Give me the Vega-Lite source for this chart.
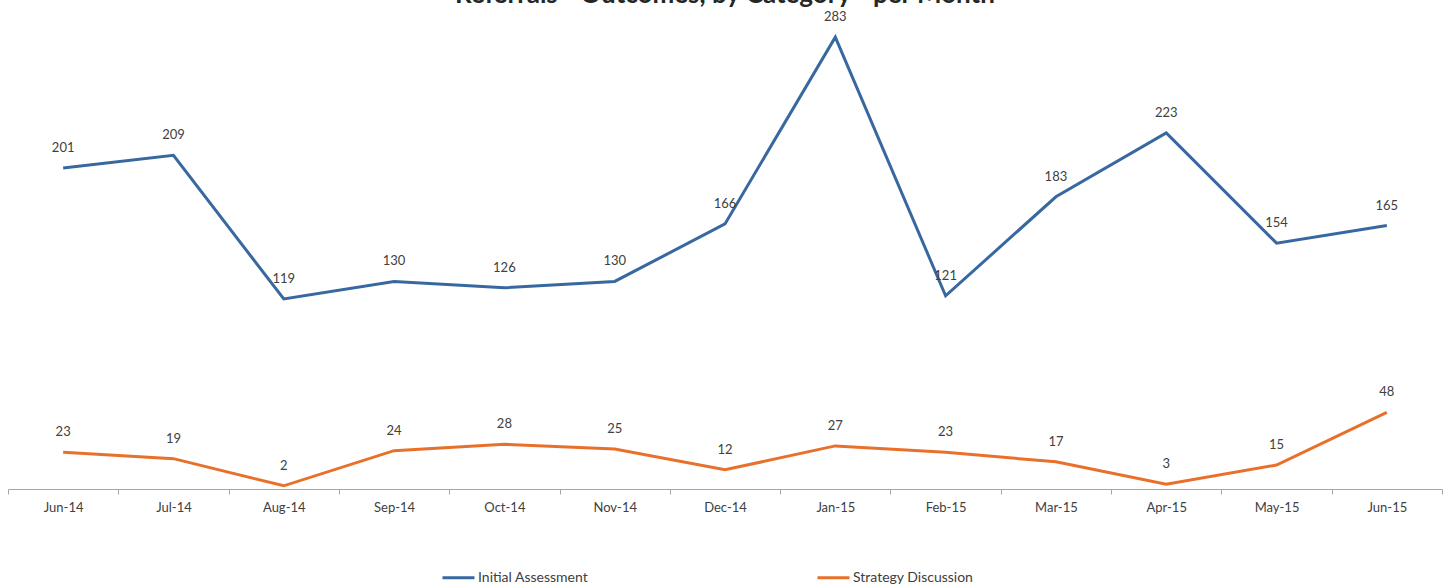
{
  "$schema": "https://vega.github.io/schema/vega-lite/v6.json",
  "width": 1434,
  "height": 479,
  "autosize": {"type": "none"},
  "padding": {"left": 8, "top": 10, "right": 8, "bottom": 95},
  "background": "white",
  "title": {
    "text": "Referrals - Outcomes, by Category - per Month",
    "font": "Lato",
    "fontSize": 26,
    "fontWeight": "bold",
    "color": "#262626",
    "anchor": "middle",
    "baseline": "bottom",
    "offset": -24
  },
  "config": {
    "view": {"stroke": null},
    "font": "Lato"
  },
  "data": {
    "values": [
      {"month": "Jun-14", "series": "Initial Assessment", "value": 201},
      {"month": "Jul-14", "series": "Initial Assessment", "value": 209},
      {"month": "Aug-14", "series": "Initial Assessment", "value": 119},
      {"month": "Sep-14", "series": "Initial Assessment", "value": 130},
      {"month": "Oct-14", "series": "Initial Assessment", "value": 126},
      {"month": "Nov-14", "series": "Initial Assessment", "value": 130},
      {"month": "Dec-14", "series": "Initial Assessment", "value": 166},
      {"month": "Jan-15", "series": "Initial Assessment", "value": 283},
      {"month": "Feb-15", "series": "Initial Assessment", "value": 121},
      {"month": "Mar-15", "series": "Initial Assessment", "value": 183},
      {"month": "Apr-15", "series": "Initial Assessment", "value": 223},
      {"month": "May-15", "series": "Initial Assessment", "value": 154},
      {"month": "Jun-15", "series": "Initial Assessment", "value": 165},
      {"month": "Jun-14", "series": "Strategy Discussion", "value": 23},
      {"month": "Jul-14", "series": "Strategy Discussion", "value": 19},
      {"month": "Aug-14", "series": "Strategy Discussion", "value": 2},
      {"month": "Sep-14", "series": "Strategy Discussion", "value": 24},
      {"month": "Oct-14", "series": "Strategy Discussion", "value": 28},
      {"month": "Nov-14", "series": "Strategy Discussion", "value": 25},
      {"month": "Dec-14", "series": "Strategy Discussion", "value": 12},
      {"month": "Jan-15", "series": "Strategy Discussion", "value": 27},
      {"month": "Feb-15", "series": "Strategy Discussion", "value": 23},
      {"month": "Mar-15", "series": "Strategy Discussion", "value": 17},
      {"month": "Apr-15", "series": "Strategy Discussion", "value": 3},
      {"month": "May-15", "series": "Strategy Discussion", "value": 15},
      {"month": "Jun-15", "series": "Strategy Discussion", "value": 48}
    ]
  },
  "encoding": {
    "x": {
      "field": "month",
      "type": "ordinal",
      "sort": ["Jun-14","Jul-14","Aug-14","Sep-14","Oct-14","Nov-14","Dec-14","Jan-15","Feb-15","Mar-15","Apr-15","May-15","Jun-15"],
      "scale": {"type": "band", "paddingInner": 0, "paddingOuter": 0},
      "axis": {
        "title": null,
        "labelAngle": 0,
        "labelFont": "Lato",
        "labelFontSize": 13,
        "labelColor": "#404040",
        "labelPadding": 7,
        "domainColor": "#a6a6a6",
        "domainWidth": 1,
        "tickColor": "#a6a6a6",
        "tickSize": 5,
        "tickBand": "extent",
        "grid": false
      }
    },
    "y": {
      "field": "value",
      "type": "quantitative",
      "scale": {"domain": [0, 300], "nice": false},
      "axis": null
    }
  },
  "layer": [
    {
      "mark": {"type": "line", "strokeWidth": 3},
      "encoding": {
        "color": {
          "field": "series",
          "type": "nominal",
          "scale": {"domain": ["Initial Assessment", "Strategy Discussion"], "range": ["#3868a0", "#e8702a"]},
          "legend": {
            "title": null,
            "orient": "none",
            "legendX": 433,
            "legendY": 550,
            "direction": "horizontal",
            "symbolType": "stroke",
            "symbolSize": 1024,
            "symbolStrokeWidth": 3,
            "labelFont": "Lato",
            "labelFontSize": 14,
            "labelColor": "#404040",
            "labelOffset": 2,
            "columnPadding": 222
          }
        }
      }
    },
    {
      "mark": {"type": "text", "baseline": "middle", "dy": -20, "fontSize": 13, "font": "Lato", "color": "#404040"},
      "encoding": {
        "text": {"field": "value", "type": "quantitative"},
        "detail": {"field": "series", "type": "nominal"}
      }
    }
  ]
}
